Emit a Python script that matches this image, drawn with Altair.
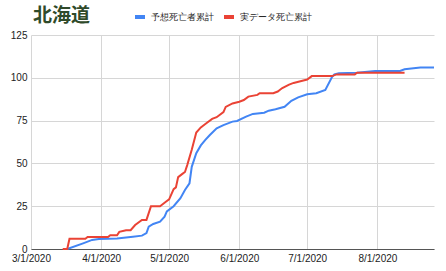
import altair as alt
import pandas as pd

title_text = "北海道"
series_names = ["予想死亡者累計", "実データ死亡累計"]
series_colors = ["#4285F4", "#EA4335"]

pred_dates = ["2020-03-17", "2020-03-24", "2020-03-28", "2020-03-31", "2020-04-08", "2020-04-11",
              "2020-04-15", "2020-04-19", "2020-04-21", "2020-04-22", "2020-04-24", "2020-04-27",
              "2020-04-29", "2020-04-30", "2020-05-03", "2020-05-06", "2020-05-08", "2020-05-10",
              "2020-05-11", "2020-05-13", "2020-05-15", "2020-05-17", "2020-05-19", "2020-05-22",
              "2020-05-25", "2020-05-29", "2020-05-31", "2020-06-04", "2020-06-07", "2020-06-12",
              "2020-06-14", "2020-06-17", "2020-06-21", "2020-06-24", "2020-06-27", "2020-07-01",
              "2020-07-05", "2020-07-09", "2020-07-12", "2020-07-13", "2020-07-15", "2020-07-23",
              "2020-07-31", "2020-08-11", "2020-08-13", "2020-08-20", "2020-08-26"]
pred_vals = [0, 3.3, 5.3, 5.8, 6.2, 6.6,
             7.2, 7.8, 9.3, 13, 14.6, 16,
             18.9, 22, 25, 29.7, 34.5, 38.4,
             48, 56, 60.5, 63.7, 66.6, 70.5,
             72.4, 74.4, 74.8, 77.3, 78.9, 79.6,
             80.8, 81.6, 83.1, 86.6, 88.6, 90.4,
             91, 92.9, 100.6, 102, 102.6, 103,
             104, 104, 105, 106, 106]

actual_dates = ["2020-03-15", "2020-03-17", "2020-03-18", "2020-03-25", "2020-03-26", "2020-04-04",
                "2020-04-05", "2020-04-08", "2020-04-09", "2020-04-12", "2020-04-14", "2020-04-16",
                "2020-04-19", "2020-04-21", "2020-04-23", "2020-04-27", "2020-04-28", "2020-04-30",
                "2020-05-01", "2020-05-03", "2020-05-04", "2020-05-05", "2020-05-07", "2020-05-08",
                "2020-05-09", "2020-05-11", "2020-05-13", "2020-05-15", "2020-05-17", "2020-05-20",
                "2020-05-22", "2020-05-23", "2020-05-25", "2020-05-26", "2020-05-29", "2020-06-01",
                "2020-06-03", "2020-06-05", "2020-06-09", "2020-06-10", "2020-06-16", "2020-06-18",
                "2020-06-19", "2020-06-20", "2020-06-23", "2020-06-25", "2020-06-28", "2020-07-01",
                "2020-07-03", "2020-07-12", "2020-07-14", "2020-07-22", "2020-07-23", "2020-08-13"]
actual_vals = [0, 0, 6, 6, 7, 7,
               8, 8, 10, 11, 11, 14,
               17, 17, 25, 25, 26, 28,
               29, 35, 36, 42, 44, 45,
               49, 58, 68, 71, 73, 76,
               77, 78, 80, 83, 85, 86,
               87, 89, 90, 91, 91, 92,
               93, 94, 96, 97, 98, 99,
               101, 101, 102, 102, 103, 103]

x_ticks = ["2020-03-01", "2020-04-01", "2020-05-01", "2020-06-01", "2020-07-01", "2020-08-01"]
x_domain = ["2020-03-01", "2020-08-26"]
y_ticks = [0, 25, 50, 75, 100, 125]

df = pd.concat([
    pd.DataFrame({"date": pred_dates, "value": pred_vals, "series": series_names[0]}),
    pd.DataFrame({"date": actual_dates, "value": actual_vals, "series": series_names[1]}),
])

tick_dt = [alt.DateTime(year=int(d[:4]), month=int(d[5:7]), date=int(d[8:])) for d in x_ticks]
dom_dt = [alt.DateTime(year=int(d[:4]), month=int(d[5:7]), date=int(d[8:])) for d in x_domain]

lines = alt.Chart(df).mark_line(strokeWidth=2, interpolate="linear").encode(
    x=alt.X("date:T",
            scale=alt.Scale(domain=dom_dt, nice=False),
            axis=alt.Axis(values=tick_dt, format="%-m/%-d/%Y", title=None, grid=True,
                          gridColor="#d6d6d6", domainColor="#555555", ticks=False,
                          labelFont="Arial, Liberation Sans", labelFontSize=10, labelColor="#222222",
                          labelPadding=4, labelOverlap=False, labelFlush=False)),
    y=alt.Y("value:Q",
            scale=alt.Scale(domain=[0, 125], nice=False),
            axis=alt.Axis(values=y_ticks, title=None, grid=True, gridColor="#d6d6d6", domain=False,
                          ticks=False, labelFont="Arial, Liberation Sans", labelFontSize=10,
                          labelColor="#222222", labelPadding=4)),
    color=alt.Color("series:N",
                    scale=alt.Scale(domain=series_names, range=series_colors),
                    sort=series_names,
                    legend=alt.Legend(title=None, orient="none", direction="horizontal",
                                      legendX=102, legendY=-25,
                                      symbolType="stroke", symbolSize=100,
                                      symbolStrokeWidth=4,
                                      labelFont="Arial, Liberation Sans", labelFontSize=9,
                                      labelColor="#222222", columnPadding=2)),
)

title = alt.Chart(pd.DataFrame({"t": [title_text]})).mark_text(
    font="Noto Sans CJK JP", fontSize=19, fontWeight="bold", color="#2f4a2a",
    align="left", baseline="alphabetic",
).encode(x=alt.value(2), y=alt.value(-13), text="t:N")

chart = alt.layer(lines, title).properties(
    width=403, height=214,
    padding={"left": 31, "top": 35, "right": 12, "bottom": 22},
    autosize="none",
).configure_view(stroke=None)

chart.save("out.html", embed_options={"renderer": "svg", "actions": False})
